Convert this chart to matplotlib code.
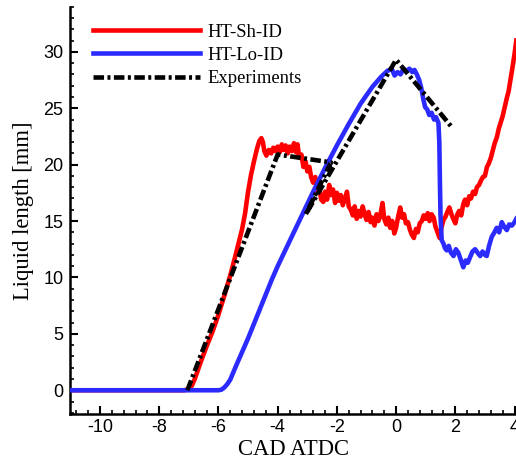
import matplotlib
matplotlib.use("Agg")
import matplotlib.pyplot as plt
from matplotlib.ticker import MultipleLocator

plt.rcParams['axes.unicode_minus'] = False

# HT-Sh-ID liquid length vs crank angle
sh_cad = [-11, -7.15, -7.0, -6.9, -6.8, -6.6, -6.4, -6.2, -6.0, -5.8, -5.6, -5.4,
          -5.2, -5.1, -5.0, -4.9, -4.8, -4.7, -4.62, -4.55, -4.5, -4.45, -4.38, -4.3,
          -4.22, -4.15, -4.08, -4.0, -3.93, -3.86, -3.8, -3.73, -3.66, -3.6, -3.52,
          -3.45, -3.38, -3.33, -3.27, -3.2, -3.13, -3.06, -3.0, -2.93, -2.87, -2.8,
          -2.73, -2.66, -2.6, -2.53, -2.46, -2.4, -2.33, -2.26, -2.2, -2.13, -2.06,
          -2.0, -1.93, -1.87, -1.8, -1.73, -1.66, -1.6, -1.53, -1.46, -1.4, -1.33,
          -1.26, -1.2, -1.13, -1.06, -1.0, -0.93, -0.86, -0.8, -0.73, -0.66, -0.6,
          -0.54, -0.46, -0.4, -0.33, -0.26, -0.2, -0.13, -0.06, 0.0, 0.07, 0.14,
          0.2, 0.27, 0.33, 0.4, 0.47, 0.53, 0.6, 0.67, 0.73, 0.8, 0.87, 0.93, 1.0,
          1.07, 1.13, 1.2, 1.27, 1.33, 1.4, 1.47, 1.53, 1.6, 1.67, 1.73, 1.8, 1.87,
          1.93, 2.0, 2.07, 2.13, 2.2, 2.27, 2.33, 2.4, 2.47, 2.53, 2.6, 2.67, 2.73,
          2.8, 2.87, 2.93, 3.0, 3.07, 3.13, 3.2, 3.27, 3.33, 3.4, 3.47, 3.53, 3.6,
          3.67, 3.73, 3.8, 3.87, 3.93, 4.0, 4.06]
sh_len = [0, 0, 0.1, 0.4, 1.0, 2.5, 3.9, 5.2, 6.7, 8.4, 10.2, 12.2,
          14.3, 15.7, 17.6, 19.1, 20.3, 21.4, 22.1, 22.35, 22.0, 21.2, 20.8, 21.3,
          21.0, 21.5, 21.2, 21.6, 21.1, 21.8, 21.3, 21.7, 21.0, 21.6, 21.2,
          21.9, 21.1, 21.8, 20.6, 20.9, 19.8, 20.3, 19.4, 19.8, 18.9, 18.4,
          18.9, 17.6, 18.0, 16.9, 16.7, 17.6, 16.9, 18.2, 17.3, 17.8, 16.6,
          17.5, 16.8, 17.3, 16.4, 17.0, 17.6, 16.3, 16.0, 15.5, 16.3, 15.2,
          15.9, 15.4, 16.3, 15.6, 15.1, 15.8, 14.9, 15.3, 14.6, 15.6, 15.0,
          15.4, 16.6, 15.2, 14.7, 15.3, 14.4, 15.0, 13.9, 14.4, 15.4, 16.2,
          15.3, 15.6, 14.8, 14.9, 14.2, 13.8, 13.5, 14.3, 14.0, 14.8, 15.0, 15.5, 15.2,
          15.7, 15.0, 15.6, 15.3, 14.5, 14.0, 13.5, 14.4, 15.1, 15.4, 15.8, 16.2, 15.6,
          15.2, 14.8, 15.6, 15.9, 15.5, 16.5, 16.9, 16.4, 17.2, 17.0, 17.6, 17.4, 18.0,
          18.2, 18.6, 18.9, 19.0, 19.8, 20.1, 20.6, 21.3, 21.9, 22.4, 23.2, 23.7, 24.3,
          25.1, 25.8, 26.5, 27.6, 28.6, 29.8, 31.0]

# HT-Lo-ID liquid length vs crank angle
lo_cad = [-11, -6.0, -5.9, -5.8, -5.7, -5.6, -5.4, -5.2, -5.0, -4.8, -4.6, -4.4,
          -4.2, -4.0, -3.6, -3.2, -2.8, -2.4, -2.0, -1.6, -1.2, -0.8, -0.5, -0.3,
          -0.15, -0.05, 0.05, 0.15, 0.25, 0.35, 0.45, 0.55, 0.62, 0.7, 0.78, 0.85,
          0.92, 0.98, 1.05, 1.12, 1.2, 1.28, 1.35, 1.43, 1.46, 1.48, 1.5, 1.54, 1.6,
          1.65, 1.71, 1.78, 1.85, 1.94, 2.02, 2.1, 2.18, 2.27, 2.35, 2.42, 2.5, 2.58,
          2.67, 2.75, 2.84, 2.92, 3.0, 3.06, 3.14, 3.23, 3.3, 3.4, 3.48, 3.57, 3.65,
          3.74, 3.82, 3.91, 4.0, 4.06]
lo_len = [0, 0, 0.05, 0.25, 0.55, 0.95, 2.2, 3.4, 4.6, 5.9, 7.2, 8.5,
          9.8, 11.0, 13.2, 15.4, 17.6, 19.7, 21.7, 23.6, 25.4, 26.9, 27.8, 28.3,
          28.5, 27.9, 28.2, 28.0, 28.5, 28.3, 28.5, 28.2, 28.4, 28.0, 27.5, 26.8,
          25.8, 25.1, 24.9, 24.4, 24.6, 24.0, 24.2, 23.7, 22.0, 18.5, 15.5, 13.3, 13.0,
          12.6, 12.4, 12.8, 12.2, 11.9, 12.5, 12.2, 11.6, 10.9, 11.5, 11.3, 11.8, 12.3,
          12.5, 12.2, 11.9, 12.3, 12.0, 11.9, 12.8, 13.6, 13.9, 14.4, 14.0, 14.9, 14.5,
          14.2, 14.7, 14.6, 14.9, 15.2]

# measured liquid length
exp_cad = [-7.05, -4.0, -2.2, -3.05, 0.0, 1.92]
exp_len = [0, 20.9, 20.2, 15.6, 29.3, 23.2]

fig = plt.figure(figsize=(5.16, 4.72), dpi=100)
ax = fig.add_axes([0.1365, 0.123, 0.8635, 0.8628])

ax.plot(sh_cad, sh_len, color='#ff0000', lw=3.3, label='HT-Sh-ID', zorder=2)
ax.plot(lo_cad, lo_len, color='#2b2bff', lw=3.3, label='HT-Lo-ID', zorder=3)
ax.plot(exp_cad, exp_len, color='black', lw=3.3, dashes=(2.3, 0.75, 0.65, 0.75),
        label='Experiments', zorder=4)

ax.set_xlim(-11, 4.05)
ax.set_ylim(-2.1, 34)
ax.xaxis.set_major_locator(MultipleLocator(2))
ax.xaxis.set_minor_locator(MultipleLocator(0.4))
ax.yaxis.set_major_locator(MultipleLocator(5))
ax.yaxis.set_minor_locator(MultipleLocator(1))

for side in ('top', 'right'):
    ax.spines[side].set_visible(False)
for side in ('left', 'bottom'):
    ax.spines[side].set_linewidth(1.8)

ax.tick_params(which='major', direction='in', length=5.8, width=1.5, pad=5)
ax.tick_params(axis='x', which='major', pad=3.5)
ax.tick_params(which='minor', direction='in', length=3.2, width=1.2)
for lab in ax.get_xticklabels() + ax.get_yticklabels():
    lab.set_fontfamily('Liberation Sans')
    lab.set_fontsize(13)

ax.set_xlabel('CAD ATDC', fontfamily='Liberation Serif', fontsize=16.3, labelpad=2)
ax.set_ylabel('Liquid length [mm]', fontfamily='Liberation Serif', fontsize=16.3, labelpad=7)

leg = ax.legend(loc='upper left', bbox_to_anchor=(92.5 / 516, 1 - 23.5 / 472),
                bbox_transform=fig.transFigure, frameon=False, borderpad=0,
                borderaxespad=0, handlelength=5.75, handletextpad=0.43,
                labelspacing=0.335, prop={'family': 'Liberation Serif', 'size': 13.4})

fig.savefig('out.png', dpi=100)
